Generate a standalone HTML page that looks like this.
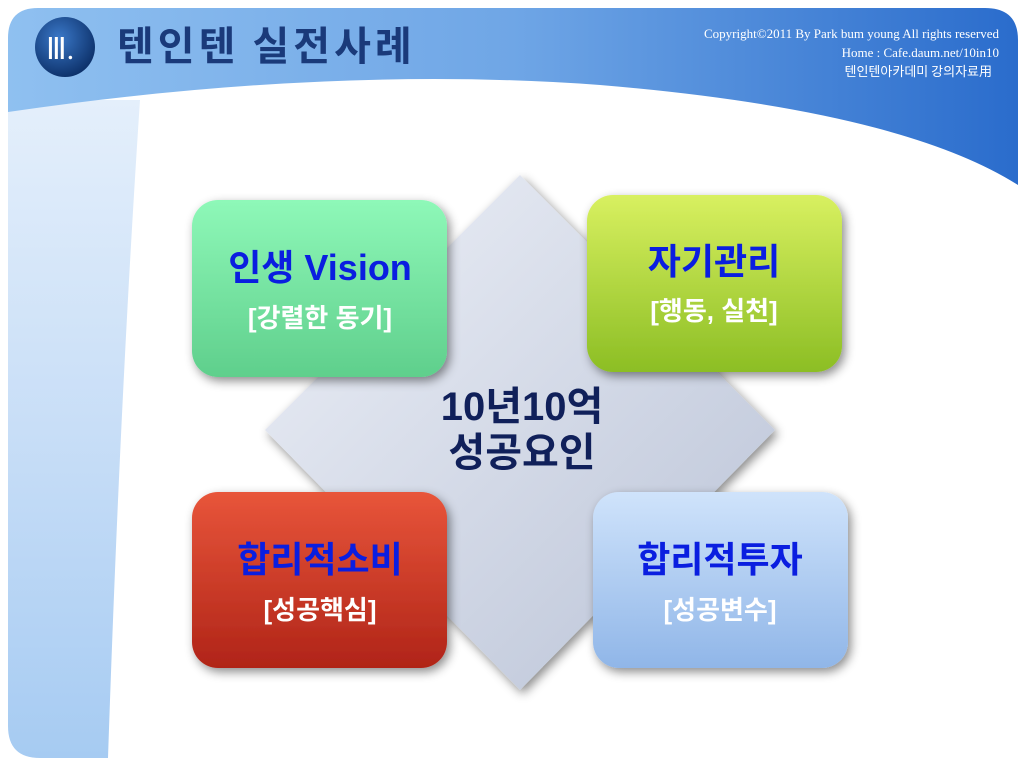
<!DOCTYPE html>
<html><head><meta charset="utf-8"><style>
body{margin:0;width:1024px;height:768px;overflow:hidden;background:#fff;font-family:"Liberation Sans","Noto Sans CJK KR",sans-serif}
</style></head><body>
<svg width="1024" height="768" viewBox="0 0 1024 768" xmlns="http://www.w3.org/2000/svg">
<defs>
<linearGradient id="hdr" x1="0" y1="0" x2="1" y2="0"><stop offset="0" stop-color="#8fc0f0"/><stop offset="0.5" stop-color="#6fa6e6"/><stop offset="1" stop-color="#2a6ccc"/></linearGradient>
<linearGradient id="side" x1="0" y1="0" x2="0" y2="1"><stop offset="0" stop-color="#e4effb"/><stop offset="0.5" stop-color="#c8def7"/><stop offset="1" stop-color="#a6cbf2"/></linearGradient>
<linearGradient id="dia" x1="0" y1="0" x2="1" y2="1"><stop offset="0" stop-color="#eef1f8"/><stop offset="1" stop-color="#b9c2d6"/></linearGradient>
<linearGradient id="g1" x1="0" y1="0" x2="0" y2="1"><stop offset="0" stop-color="#8ef8b8"/><stop offset="1" stop-color="#5fcf8c"/></linearGradient>
<linearGradient id="g2" x1="0" y1="0" x2="0" y2="1"><stop offset="0" stop-color="#d8f060"/><stop offset="1" stop-color="#8cbe24"/></linearGradient>
<linearGradient id="g3" x1="0" y1="0" x2="0" y2="1"><stop offset="0" stop-color="#e8553a"/><stop offset="1" stop-color="#b02418"/></linearGradient>
<linearGradient id="g4" x1="0" y1="0" x2="0" y2="1"><stop offset="0" stop-color="#cfe3fb"/><stop offset="1" stop-color="#90b6e8"/></linearGradient>
<radialGradient id="ball" cx="0.4" cy="0.35" r="0.7"><stop offset="0" stop-color="#3a78c8"/><stop offset="1" stop-color="#0b2e66"/></radialGradient>
<filter id="sh" x="-20%" y="-20%" width="140%" height="140%"><feDropShadow dx="3" dy="4" stdDeviation="5" flood-color="#000" flood-opacity="0.45"/></filter>
</defs>
<path d="M8 100 L140 100 Q120 400 108 758 L40 758 Q8 758 8 726 Z" fill="url(#side)"/>
<path d="M38 8 L985 8 Q1018 8 1018 40 L1018 185 Q900 110 600 85 Q330 65 8 112 L8 38 Q8 8 38 8 Z" fill="url(#hdr)"/>
<circle cx="65" cy="47" r="30" fill="url(#ball)"/>
<text x="46" y="59" font-family="Liberation Serif,serif" font-size="30" fill="#fff">Ⅲ.</text>
<text x="117" y="60" font-size="40" font-weight="bold" letter-spacing="4" fill="#1a3a7a" style="font-family:'Noto Sans CJK KR',sans-serif">텐인텐 실전사례</text>
<g font-family="Liberation Serif,serif" font-size="13" fill="#fff" text-anchor="end">
<text x="999" y="38">Copyright©2011 By Park bum young All rights reserved</text>
<text x="999" y="57">Home : Cafe.daum.net/10in10</text>
<text x="992" y="76" style="font-family:'Noto Sans CJK KR',sans-serif">텐인텐아카데미 강의자료用</text>
</g>
<polygon points="520,175 775,430 520,690 265,430" fill="url(#dia)" filter="url(#sh)"/>
<rect x="192" y="200" width="255" height="177" rx="26" fill="url(#g1)" filter="url(#sh)"/>
<rect x="587" y="195" width="255" height="177" rx="26" fill="url(#g2)" filter="url(#sh)"/>
<rect x="192" y="492" width="255" height="176" rx="26" fill="url(#g3)" filter="url(#sh)"/>
<rect x="593" y="492" width="255" height="176" rx="26" fill="url(#g4)" filter="url(#sh)"/>
<g font-weight="bold" text-anchor="middle" style="font-family:'Liberation Sans','Noto Sans CJK KR',sans-serif">
<text x="320" y="280" font-size="36" fill="#0a1ee0">인생 Vision</text>
<text x="320" y="327" font-size="26" fill="#fff">[강렬한 동기]</text>
<text x="714" y="274" font-size="36" fill="#0a1ee0">자기관리</text>
<text x="714" y="320" font-size="26" fill="#fff">[행동, 실천]</text>
<text x="320" y="572" font-size="36" fill="#0a1ee0">합리적소비</text>
<text x="320" y="619" font-size="26" fill="#fff">[성공핵심]</text>
<text x="720" y="572" font-size="36" fill="#0a1ee0">합리적투자</text>
<text x="720" y="619" font-size="26" fill="#fff">[성공변수]</text>
<text x="522" y="420" font-size="40" fill="#10205a">10년10억</text>
<text x="522" y="466" font-size="40" fill="#10205a">성공요인</text>
</g>
</svg>
</body></html>
